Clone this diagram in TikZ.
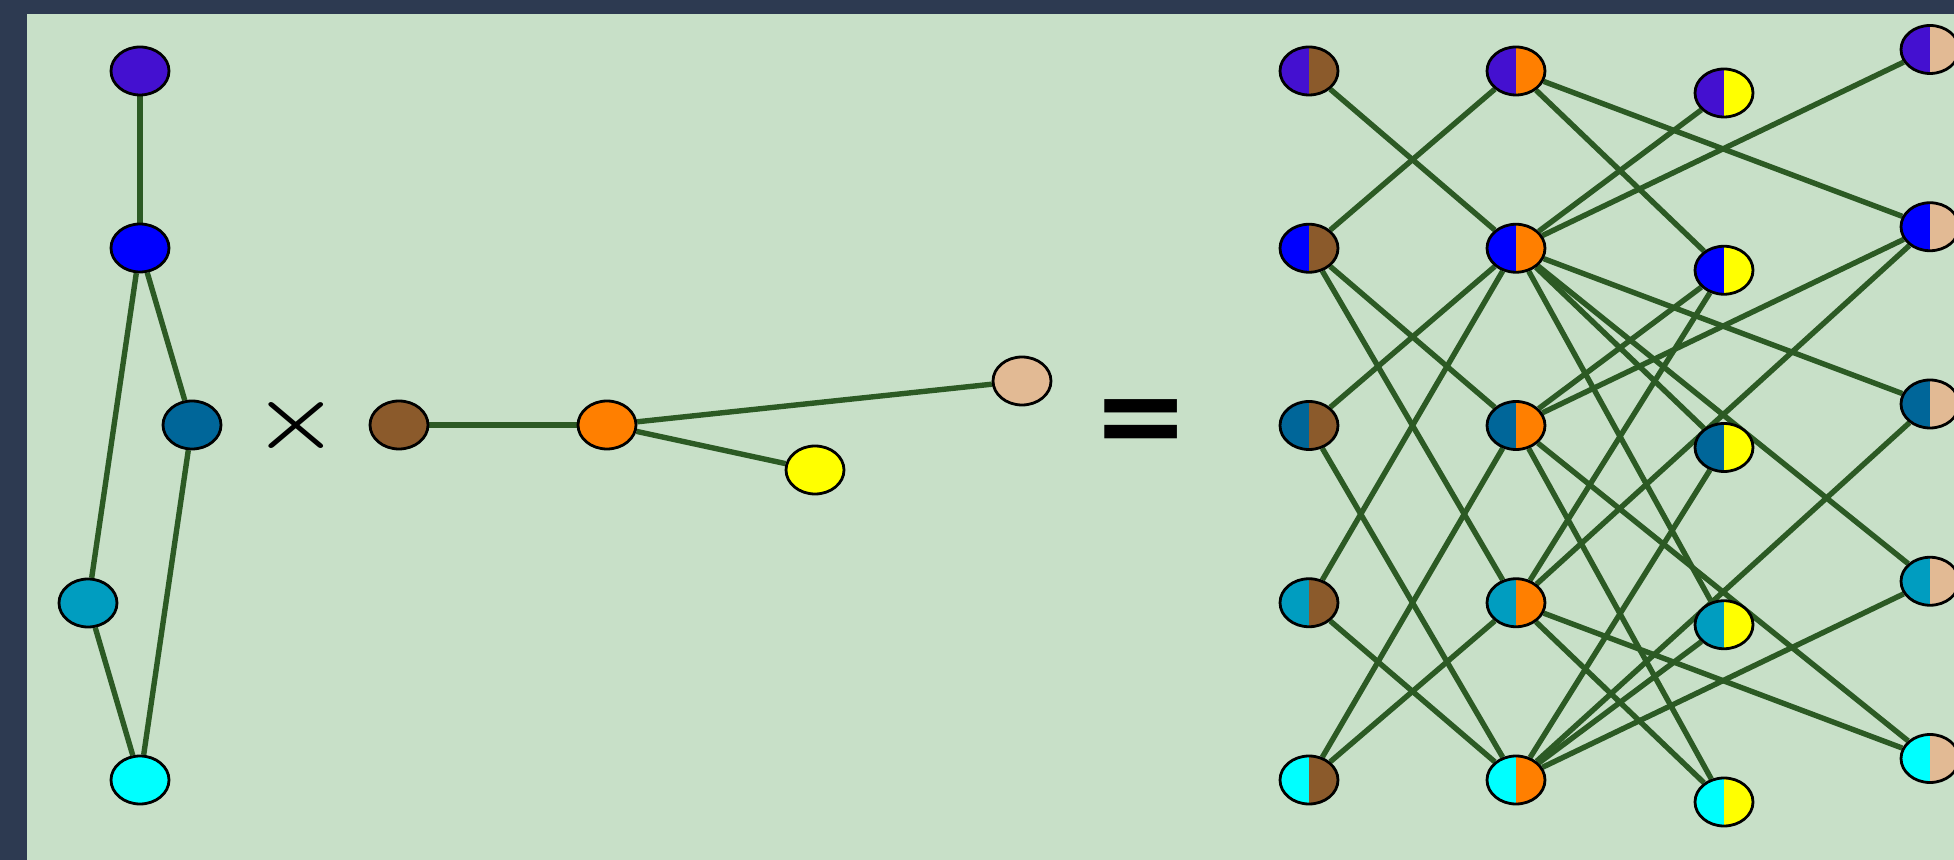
\documentclass[tikz,border=0pt]{standalone}
\usepackage{fontspec}
\newfontfamily\dejavu{DejaVu Sans}
\usetikzlibrary{shapes.geometric}
\definecolor{navy}{HTML}{2D3A51}
\definecolor{paper}{HTML}{C8E0C8}
\definecolor{edgec}{HTML}{2C5A24}
\definecolor{cA}{HTML}{4410D0}
\definecolor{cB}{HTML}{0000FF}
\definecolor{cC}{HTML}{006699}
\definecolor{cD}{HTML}{009DC0}
\definecolor{cE}{HTML}{00FFFF}
\definecolor{hA}{HTML}{8B5A2B}
\definecolor{hB}{HTML}{FF7F00}
\definecolor{hC}{HTML}{FFFF00}
\definecolor{hD}{HTML}{E2BA94}
\pgfdeclarelayer{back}
\pgfdeclarelayer{lines}
\pgfsetlayers{back,lines,main}
\newcommand\myleftc{black}
\newcommand\myrightc{black}
\tikzset{
  vert/.style={ellipse,draw=black,line width=1.4pt,minimum width=29pt,minimum height=24pt,inner sep=0pt,fill=#1},
  leftc/.code={\def\myleftc{#1}},
  rightc/.code={\def\myrightc{#1}},
  halves/.style={ellipse,draw=black,line width=1.4pt,minimum width=29pt,minimum height=24pt,inner sep=0pt,
    path picture={\fill[\myleftc] (path picture bounding box.south west) rectangle (path picture bounding box.north);
                  \fill[\myrightc] (path picture bounding box.south) rectangle (path picture bounding box.north east);}},
  link/.style={draw=edgec,line width=2.7pt}
}
\begin{document}
\begin{tikzpicture}[x=0.5pt,y=-0.5pt]
\begin{pgfonlayer}{back}
\fill[navy] (0,0) rectangle (1954,860);
\fill[paper] (27,14) rectangle (1954,860);
\end{pgfonlayer}
\useasboundingbox (0,0) rectangle (1954,860);
% first factor
\node[vert=cA] (g1) at (140,71) {};
\node[vert=cB] (g2) at (140,248) {};
\node[vert=cC] (g3) at (192,425) {};
\node[vert=cD] (g4) at (88,603) {};
\node[vert=cE] (g5) at (140,780) {};
% second factor
\node[vert=hA] (h1) at (399,425) {};
\node[vert=hB] (h2) at (607,425) {};
\node[vert=hC] (h3) at (815,470) {};
\node[vert=hD] (h4) at (1022,381) {};
% symbols
\node (times) at (296,426) {\bfseries\fontsize{50}{50}\selectfont\scalebox{1}[0.84]{×}};
\node (eq) at (1141,428) {\dejavu\bfseries\fontsize{58}{58}\selectfont =};
% product
\foreach \i/\c in {1/cA,2/cB,3/cC,4/cD,5/cE}{
  \foreach \j/\h/\x/\off in {1/hA/1309/0,2/hB/1516/0,3/hC/1724/22,4/hD/1930/-21.5}{
    \pgfmathsetmacro\yy{71+177.25*(\i-1)+\off}
    \node[leftc=\c,rightc=\h,halves] (p\i\j) at (\x,\yy) {};
  }
}
\begin{pgfonlayer}{lines}
\foreach \a/\b in {1/2,2/3,2/4,3/5,4/5}{\draw[link] (g\a) -- (g\b);}
\foreach \a/\b in {1/2,2/3,2/4}{\draw[link] (h\a) -- (h\b);}
\foreach \a/\b in {1/2,2/3,2/4,3/5,4/5}{
  \foreach \u/\v in {1/2,2/3,2/4}{
    \draw[link] (p\a\u) -- (p\b\v);
    \draw[link] (p\a\v) -- (p\b\u);
  }
}
\end{pgfonlayer}
\end{tikzpicture}
\end{document}
